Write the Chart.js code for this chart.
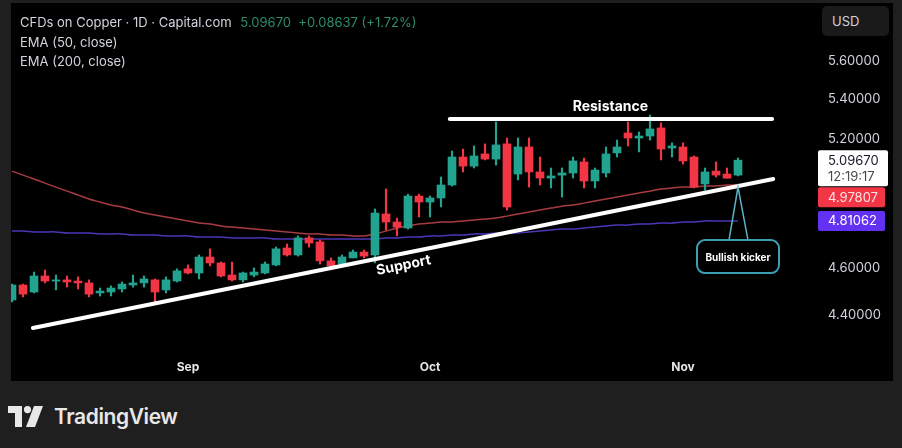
<!DOCTYPE html>
<html>
<head>
<meta charset="utf-8">
<script src="https://cdn.jsdelivr.net/npm/chart.js@4.4.1/dist/chart.umd.min.js"></script>
<style>
  html, body { margin: 0; padding: 0; }
  body {
    width: 902px; height: 448px; overflow: hidden; position: relative;
    background: #1f1f1f; font-family: Inter, "Noto Sans", sans-serif;
  }
  #panel { position: absolute; left: 11px; top: 3px; width: 882px; height: 378px; background: #000; }
  #panel canvas { position: absolute; left: 0; top: 0; }
  .legend { position: absolute; left: 9px; top: 10px; color: #d1d4dc; font-size: 13px; line-height: 19.5px; }
  .legend .up { color: #2e8b70; margin-left: 5px; }
  #usd {
    position: absolute; left: 811px; top: 3px; width: 67px; height: 30px; box-sizing: border-box;
    background: #1a1a1a; border-radius: 5px; color: #d1d4dc; font-size: 13px;
    line-height: 30px; padding-left: 10px;
  }
  #brand { position: absolute; left: 8px; top: 404px; display: flex; align-items: center; color: #e8e8e8; }
  #brand span { font-size: 21px; font-weight: 600; letter-spacing: -0.4px; margin-left: 10px; }
</style>
</head>
<body>
<div id="panel">
  <canvas id="copperChart" width="882" height="378"></canvas>
  <div class="legend">
    <div>CFDs on Copper · 1D · Capital.com <span class="up">5.09670&nbsp; +0.08637 (+1.72%)</span></div>
    <div>EMA (50, close)</div>
    <div>EMA (200, close)</div>
  </div>
  <div id="usd">USD</div>
</div>
<div id="brand">
  <svg width="36" height="21" viewBox="0 0 36 21">
    <path d="M0 0H14V21H7V7H0Z" fill="#e8e8e8"/>
    <circle cx="19.5" cy="3.6" r="3.6" fill="#e8e8e8"/>
    <path d="M26 0H35L27 21H18Z" fill="#e8e8e8"/>
  </svg>
  <span>TradingView</span>
</div>
<script>
// trading days, Aug 8 -> Nov 10
const dates = [
  '08-08','08-11','08-12','08-13','08-14','08-15','08-18','08-19','08-20','08-21',
  '08-22','08-25','08-26','08-27','08-28','08-29','09-01','09-02','09-03','09-04',
  '09-05','09-08','09-09','09-10','09-11','09-12','09-15','09-16','09-17','09-18',
  '09-19','09-22','09-23','09-24','09-25','09-26','09-29','09-30','10-01','10-02',
  '10-03','10-06','10-07','10-08','10-09','10-10','10-13','10-14','10-15','10-16',
  '10-17','10-20','10-21','10-22','10-23','10-24','10-27','10-28','10-29','10-30',
  '10-31','11-03','11-04','11-05','11-06','11-07','11-10'
];
const monthNames = { '09': 'Sep', '10': 'Oct', '11': 'Nov' };

const open = [
  4.463,4.527,4.497,4.566,4.544,4.549,4.544,4.536,4.493,4.497,
  4.510,4.527,4.536,4.549,4.506,4.544,4.597,4.579,4.649,4.623,
  4.570,4.549,4.570,4.579,4.614,4.689,4.658,4.734,4.716,4.632,
  4.618,4.645,4.671,4.658,4.843,4.806,4.779,4.926,4.898,4.917,
  4.978,5.112,5.068,5.127,5.102,5.176,5.030,5.161,5.040,5.011,
  5.025,5.035,5.088,4.997,5.035,5.132,5.230,5.205,5.215,5.255,
  5.156,5.161,5.112,4.983,5.044,5.030,5.025
];
const high = [
  4.531,4.531,4.583,4.592,4.570,4.566,4.562,4.549,4.514,4.523,
  4.540,4.570,4.566,4.553,4.562,4.597,4.614,4.658,4.685,4.627,
  4.627,4.583,4.601,4.627,4.693,4.707,4.743,4.743,4.725,4.645,
  4.658,4.680,4.680,4.866,4.959,4.824,4.935,4.935,4.926,5.016,
  5.141,5.151,5.166,5.176,5.285,5.205,5.205,5.205,5.112,5.059,
  5.059,5.112,5.107,5.059,5.161,5.195,5.285,5.235,5.320,5.280,
  5.181,5.181,5.117,5.059,5.088,5.059,5.107
];
const low = [
  4.455,4.476,4.493,4.536,4.506,4.518,4.510,4.476,4.480,4.480,
  4.497,4.518,4.518,4.455,4.493,4.540,4.575,4.553,4.610,4.562,
  4.544,4.540,4.562,4.575,4.610,4.653,4.653,4.693,4.618,4.601,
  4.610,4.645,4.645,4.623,4.770,4.743,4.774,4.829,4.829,4.875,
  4.973,5.040,5.059,5.098,5.073,4.861,5.002,4.968,4.978,4.964,
  4.921,5.011,4.964,4.964,5.016,5.112,5.166,5.137,5.195,5.098,
  5.112,5.078,4.964,4.954,5.016,5.011,5.021
];
const close = [
  4.527,4.488,4.566,4.544,4.549,4.540,4.536,4.488,4.501,4.514,
  4.531,4.536,4.553,4.497,4.549,4.588,4.579,4.649,4.623,4.566,
  4.549,4.579,4.583,4.618,4.685,4.658,4.734,4.711,4.632,4.610,
  4.649,4.671,4.653,4.847,4.806,4.783,4.926,4.898,4.917,4.978,
  5.112,5.068,5.117,5.102,5.171,4.875,5.161,5.040,5.011,5.021,
  5.035,5.093,4.997,5.049,5.127,5.161,5.205,5.215,5.250,5.151,
  5.166,5.093,4.968,5.040,5.025,5.0103,5.0967
];
const ema50 = [
  5.044,5.025,5.006,4.987,4.968,4.949,4.931,4.912,4.898,4.884,
  4.875,4.861,4.847,4.838,4.829,4.820,4.811,4.801,4.797,4.788,
  4.783,4.779,4.774,4.770,4.765,4.761,4.756,4.752,4.752,4.747,
  4.747,4.743,4.743,4.752,4.765,4.779,4.788,4.797,4.801,4.806,
  4.806,4.811,4.815,4.820,4.824,4.833,4.843,4.852,4.861,4.870,
  4.879,4.884,4.893,4.903,4.912,4.921,4.931,4.940,4.949,4.959,
  4.964,4.968,4.968,4.973,4.973,4.978,4.97807
];
const ema200 = [
  4.765,4.765,4.761,4.761,4.761,4.756,4.756,4.756,4.752,4.752,
  4.752,4.747,4.747,4.747,4.743,4.743,4.743,4.738,4.738,4.738,
  4.734,4.734,4.734,4.734,4.729,4.729,4.729,4.729,4.729,4.729,
  4.729,4.729,4.729,4.729,4.734,4.734,4.738,4.738,4.743,4.743,
  4.747,4.747,4.752,4.752,4.756,4.756,4.756,4.761,4.765,4.770,
  4.774,4.774,4.779,4.783,4.788,4.792,4.792,4.797,4.797,4.801,
  4.801,4.806,4.806,4.811,4.811,4.811,4.81062
];
const yTicks = [4.4, 4.6, 4.8, 5.0, 5.2, 5.4, 5.6];

// hand drawn trend lines (bar index, price)
const supportLine = [{ x: 1.9, y: 4.346 }, { x: 69.2, y: 5.006 }];
const resistanceLine = [{ x: 39.8, y: 5.30 }, { x: 69.1, y: 5.30 }];

const UP = '#22a38f', DOWN = '#f23645';
const idx = dates.map((d, i) => i);
const candleColor = idx.map(i => close[i] >= open[i] ? UP : DOWN);
const monthStarts = idx.filter(i => i > 0 && dates[i].slice(0, 2) !== dates[i - 1].slice(0, 2));

// labels, callout and price badges
const overlay = {
  id: 'overlay',
  afterDraw(chart) {
    const { ctx, chartArea } = chart;
    const x = chart.scales.x, y = chart.scales.y;
    ctx.save();
    ctx.fillStyle = '#ffffff';
    ctx.textAlign = 'center';
    ctx.textBaseline = 'middle';
    ctx.font = 'bold 14px Inter, sans-serif';
    ctx.fillText('Resistance', x.getPixelForValue(54.4), y.getPixelForValue(5.361));

    // support text follows the line slope
    const ang = Math.atan2(
      y.getPixelForValue(supportLine[1].y) - y.getPixelForValue(supportLine[0].y),
      x.getPixelForValue(supportLine[1].x) - x.getPixelForValue(supportLine[0].x));
    ctx.save();
    ctx.translate(x.getPixelForValue(35.6), y.getPixelForValue(4.612));
    ctx.rotate(ang);
    ctx.fillText('Support', 0, 0);
    ctx.restore();

    // bullish kicker callout
    const ax = x.getPixelForValue(66), ay = y.getPixelForValue(4.968);
    const bw = 82, bh = 33, bx = ax - 41, by = ay + 53;
    ctx.strokeStyle = '#5ab4c5';
    ctx.lineWidth = 1.5;
    ctx.beginPath();
    ctx.moveTo(ax - 9, by); ctx.lineTo(ax, ay); ctx.lineTo(ax + 10, by);
    ctx.stroke();
    ctx.fillStyle = '#000';
    ctx.strokeStyle = '#3c9fb1';
    ctx.lineWidth = 2;
    ctx.beginPath();
    ctx.roundRect(bx, by, bw, bh, 8);
    ctx.fill();
    ctx.stroke();
    ctx.fillStyle = '#ffffff';
    ctx.font = 'bold 10px Inter, sans-serif';
    ctx.fillText('Bullish kicker', bx + bw / 2, by + bh / 2 + 1);

    // price badges on the axis
    const badges = [
      { v: close[close.length - 1], bg: '#ffffff', fg: '#131722', sub: '12:19:17', w: 70, h: 36 },
      { v: ema50[ema50.length - 1], bg: DOWN, fg: '#ffe3e5', w: 67, h: 20 },
      { v: ema200[ema200.length - 1], bg: '#6331f2', fg: '#ffffff', w: 67, h: 20 }
    ];
    let prevBottom = -1e9;
    ctx.textAlign = 'left';
    ctx.font = '13px Inter, sans-serif';
    badges.forEach(b => {
      const top = Math.max(y.getPixelForValue(b.v) - 10, prevBottom + 1);
      const left = chartArea.right + 3;
      ctx.fillStyle = b.bg;
      ctx.beginPath();
      ctx.roundRect(left, top, b.w, b.h, 2);
      ctx.fill();
      ctx.fillStyle = b.fg;
      ctx.fillText(b.v.toFixed(5), left + 10, top + 10.5);
      if (b.sub) {
        ctx.fillStyle = '#4a4a4a';
        ctx.fillText(b.sub, left + 10, top + 27);
      }
      prevBottom = top + b.h;
    });
    ctx.restore();
  }
};

const ctx = document.getElementById('copperChart').getContext('2d');
Chart.defaults.font.family = 'Inter, "Noto Sans", sans-serif';

new Chart(ctx, {
  type: 'bar',
  data: {
    datasets: [
      {
        type: 'line', label: 'Resistance', order: 1,
        data: resistanceLine, borderColor: '#ffffff', borderWidth: 4,
        borderCapStyle: 'round', pointRadius: 0
      },
      {
        type: 'line', label: 'Support', order: 1,
        data: supportLine, borderColor: '#ffffff', borderWidth: 4,
        borderCapStyle: 'round', pointRadius: 0
      },
      {
        label: 'Body', order: 3, grouped: false,
        data: idx.map(i => ({ x: i, y: [open[i], close[i]] })),
        backgroundColor: candleColor, barThickness: 8, minBarLength: 1
      },
      {
        label: 'Wick', order: 4, grouped: false,
        data: idx.map(i => ({ x: i, y: [low[i], high[i]] })),
        backgroundColor: candleColor, barThickness: 1.5
      },
      {
        type: 'line', label: 'EMA 50', order: 5,
        data: idx.map(i => ({ x: i, y: ema50[i] })),
        borderColor: '#a63c42', borderWidth: 1.5, pointRadius: 0, tension: 0.3
      },
      {
        type: 'line', label: 'EMA 200', order: 5,
        data: idx.map(i => ({ x: i, y: ema200[i] })),
        borderColor: '#4a36b8', borderWidth: 1.5, pointRadius: 0, tension: 0.3
      }
    ]
  },
  options: {
    responsive: false,
    animation: false,
    layout: { padding: 0 },
    plugins: { legend: { display: false }, tooltip: { enabled: false } },
    scales: {
      x: {
        type: 'linear', min: -0.09, max: 73.0, offset: false,
        grid: { display: false, drawTicks: false },
        border: { display: false },
        afterBuildTicks: s => { s.ticks = monthStarts.map(v => ({ value: v })); },
        afterFit: s => { s.height = 30; s.paddingLeft = 0; s.paddingRight = 0; },
        ticks: {
          autoSkip: false, maxRotation: 0, padding: 9,
          color: '#e6e6e6', font: { size: 12, weight: 'bold' },
          callback: v => monthNames[dates[v].slice(0, 2)]
        }
      },
      y: {
        type: 'logarithmic', position: 'right', min: 4.252, max: 5.917,
        grid: { display: false, drawTicks: false },
        border: { display: false },
        afterBuildTicks: s => { s.ticks = yTicks.map(v => ({ value: v })); },
        afterFit: s => { s.width = 78; s.paddingTop = 0; s.paddingBottom = 0; },
        ticks: {
          padding: 13, color: '#d1d4dc', font: { size: 13 },
          callback: v => Number(v).toFixed(5)
        }
      }
    }
  },
  plugins: [overlay]
});
</script>
</body>
</html>
